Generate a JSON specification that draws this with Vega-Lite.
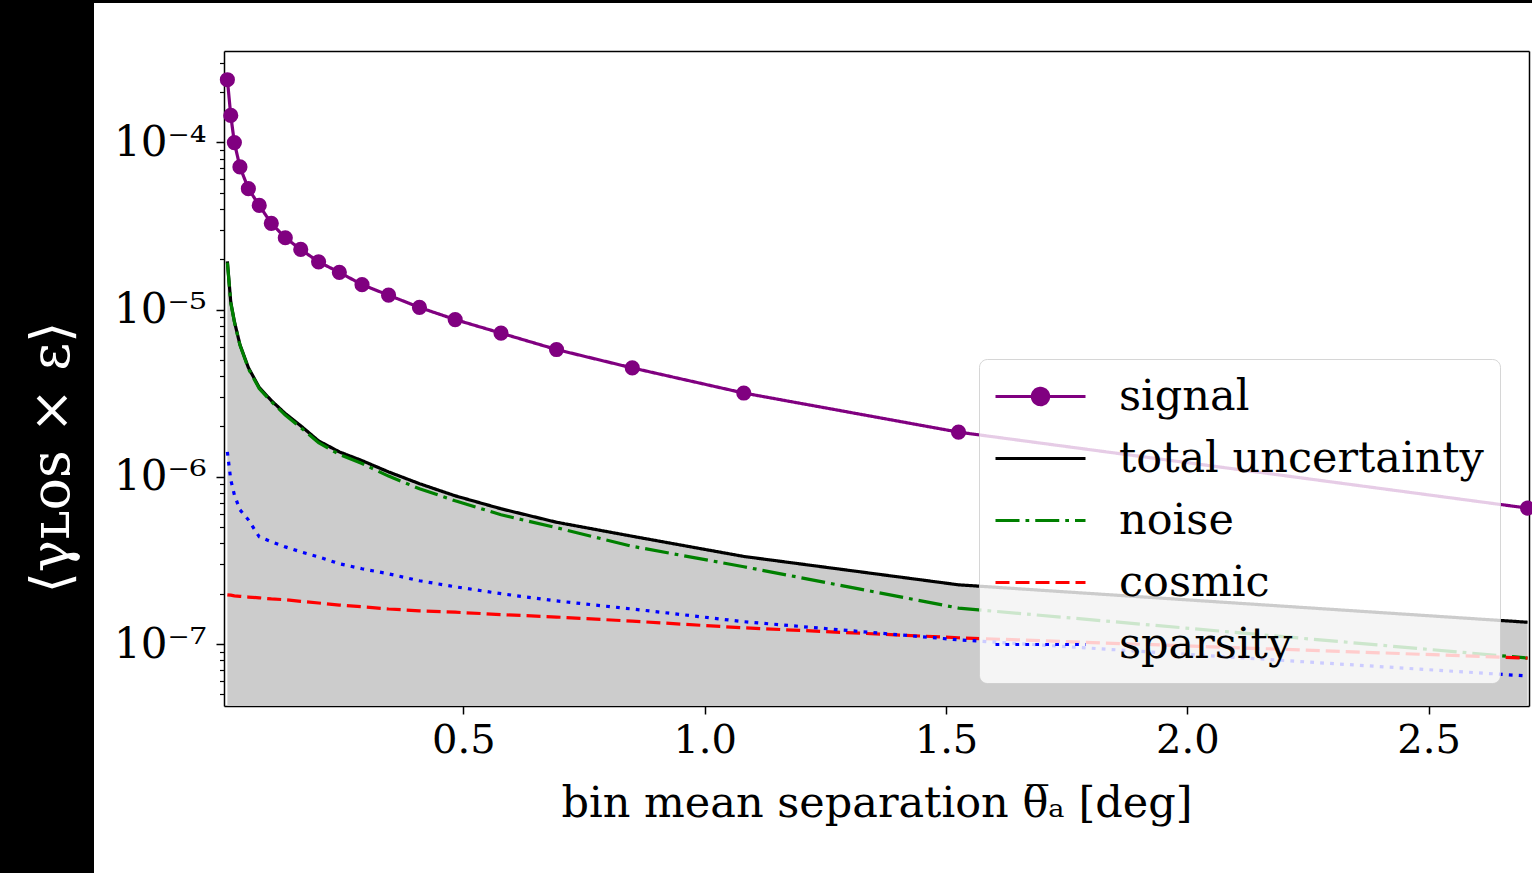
{
  "$schema": "https://vega.github.io/schema/vega-lite/v6.json",
  "background": "black",
  "autosize": "none",
  "padding": {"left": 94, "top": 3, "right": 0, "bottom": 0},
  "width": 1438,
  "height": 870,
  "view": {"fill": "white", "stroke": null},
  "data": {
    "values": [
      {"x": 0.011, "signal": 2.37e-4, "total uncertainty": 1.94e-5, "noise": 1.91e-5, "cosmic": 1.97e-7, "sparsity": 1.41e-6},
      {"x": 0.018, "signal": 1.45e-4, "total uncertainty": 1.11e-5, "noise": 1.10e-5, "cosmic": 1.96e-7, "sparsity": 9.6e-7},
      {"x": 0.0255, "signal": 9.97e-5, "total uncertainty": 8.5e-6, "noise": 8.43e-6, "cosmic": 1.94e-7, "sparsity": 7.8e-7},
      {"x": 0.037, "signal": 7.13e-5, "total uncertainty": 6.18e-6, "noise": 6.14e-6, "cosmic": 1.93e-7, "sparsity": 6.35e-7},
      {"x": 0.0545, "signal": 5.29e-5, "total uncertainty": 4.50e-6, "noise": 4.44e-6, "cosmic": 1.91e-7, "sparsity": 5.53e-7},
      {"x": 0.077, "signal": 4.20e-5, "total uncertainty": 3.42e-6, "noise": 3.37e-6, "cosmic": 1.89e-7, "sparsity": 4.38e-7},
      {"x": 0.102, "signal": 3.28e-5, "total uncertainty": 2.86e-6, "noise": 2.82e-6, "cosmic": 1.86e-7, "sparsity": 4.09e-7},
      {"x": 0.131, "signal": 2.69e-5, "total uncertainty": 2.39e-6, "noise": 2.34e-6, "cosmic": 1.84e-7, "sparsity": 3.81e-7},
      {"x": 0.163, "signal": 2.29e-5, "total uncertainty": 2.02e-6, "noise": 1.97e-6, "cosmic": 1.80e-7, "sparsity": 3.56e-7},
      {"x": 0.200, "signal": 1.93e-5, "total uncertainty": 1.64e-6, "noise": 1.60e-6, "cosmic": 1.76e-7, "sparsity": 3.32e-7},
      {"x": 0.243, "signal": 1.67e-5, "total uncertainty": 1.41e-6, "noise": 1.36e-6, "cosmic": 1.71e-7, "sparsity": 3.02e-7},
      {"x": 0.290, "signal": 1.41e-5, "total uncertainty": 1.25e-6, "noise": 1.20e-6, "cosmic": 1.67e-7, "sparsity": 2.82e-7},
      {"x": 0.345, "signal": 1.22e-5, "total uncertainty": 1.07e-6, "noise": 1.01e-6, "cosmic": 1.62e-7, "sparsity": 2.63e-7},
      {"x": 0.409, "signal": 1.03e-5, "total uncertainty": 9.1e-7, "noise": 8.49e-7, "cosmic": 1.58e-7, "sparsity": 2.39e-7},
      {"x": 0.483, "signal": 8.72e-6, "total uncertainty": 7.7e-7, "noise": 7.19e-7, "cosmic": 1.55e-7, "sparsity": 2.20e-7},
      {"x": 0.578, "signal": 7.23e-6, "total uncertainty": 6.44e-7, "noise": 5.93e-7, "cosmic": 1.50e-7, "sparsity": 2.00e-7},
      {"x": 0.693, "signal": 5.77e-6, "total uncertainty": 5.35e-7, "noise": 4.96e-7, "cosmic": 1.45e-7, "sparsity": 1.81e-7},
      {"x": 0.850, "signal": 4.48e-6, "total uncertainty": 4.41e-7, "noise": 3.84e-7, "cosmic": 1.37e-7, "sparsity": 1.62e-7},
      {"x": 1.081, "signal": 3.17e-6, "total uncertainty": 3.34e-7, "noise": 2.90e-7, "cosmic": 1.25e-7, "sparsity": 1.36e-7},
      {"x": 1.526, "signal": 1.85e-6, "total uncertainty": 2.26e-7, "noise": 1.64e-7, "cosmic": 1.09e-7, "sparsity": 1.06e-7},
      {"x": 2.705, "signal": 6.50e-7, "total uncertainty": 1.35e-7, "noise": 8.24e-8, "cosmic": 8.24e-8, "sparsity": 6.44e-8}
    ]
  },
  "resolve": {"axis": {"x": "independent", "y": "independent"}},
  "layer": [
    {
      "mark": {"type": "area", "color": "#cccccc", "clip": true},
      "encoding": {
        "x": {
          "field": "x", "type": "quantitative",
          "scale": {"domain": [0.004, 2.708], "range": [130, 1435], "nice": false, "zero": false},
          "axis": {
            "orient": "bottom", "offset": -167,
            "values": [0.5, 1, 1.5, 2, 2.5], "format": ".1f", "grid": false,
            "tickSize": 8, "tickWidth": 1.5, "tickColor": "black",
            "domainColor": "black", "domainWidth": 1.5,
            "labelFont": "DejaVu Serif", "labelFontSize": 40, "labelColor": "black", "labelPadding": 6,
            "labelFlush": false, "labelOverlap": false,
            "title": "bin mean separation θ̅ₐ [deg]", "titleFont": "DejaVu Serif", "titleFontSize": 43,
            "titleFontWeight": "normal", "titleColor": "black", "titlePadding": 22
          }
        },
        "y": {
          "field": "total uncertainty", "type": "quantitative",
          "scale": {"type": "log", "domain": [4.26e-8, 3.52e-4], "range": [703, 48], "nice": false},
          "axis": {
            "orient": "left", "offset": -130,
            "values": [1e-7, 1e-6, 1e-5, 1e-4], "grid": false,
            "labelExpr": "'10⁻' + ['⁰','¹','²','³','⁴','⁵','⁶','⁷','⁸','⁹'][-round(log(datum.value)/LN10)]",
            "tickSize": 8, "tickWidth": 1.5, "tickColor": "black",
            "domainColor": "black", "domainWidth": 1.5,
            "labelFont": "DejaVu Serif", "labelFontSize": 42, "labelColor": "black", "labelPadding": 10,
            "labelOverlap": false,
            "title": "⟨γʟᴏꜱ × ε⟩", "titleColor": "white", "titleFont": "DejaVu Serif", "titleFontSize": 54,
            "titleFontWeight": "normal", "titleAngle": 270, "titleAlign": "center", "titleBaseline": "middle",
            "titleX": -172, "titleY": 454
          }
        },
        "y2": {"datum": 4.26e-8}
      }
    },
    {
      "transform": [{"fold": ["total uncertainty", "noise", "cosmic", "sparsity", "signal"], "as": ["series", "value"]}],
      "mark": {"type": "line", "strokeWidth": 3.2, "clip": true},
      "encoding": {
        "x": {
          "field": "x", "type": "quantitative",
          "axis": {"orient": "top", "offset": -48, "labels": false, "ticks": false, "domain": true, "domainColor": "black", "domainWidth": 1.5, "grid": false, "title": null}
        },
        "y": {
          "field": "value", "type": "quantitative",
          "axis": {
            "orient": "left", "offset": -130,
            "values": [5e-8, 6e-8, 7e-8, 8e-8, 9e-8, 2e-7, 3e-7, 4e-7, 5e-7, 6e-7, 7e-7, 8e-7, 9e-7, 2e-6, 3e-6, 4e-6, 5e-6, 6e-6, 7e-6, 8e-6, 9e-6, 2e-5, 3e-5, 4e-5, 5e-5, 6e-5, 7e-5, 8e-5, 9e-5, 2e-4, 3e-4],
            "labels": false, "domain": false, "grid": false, "title": null,
            "tickSize": 4.5, "tickWidth": 1.2, "tickColor": "black"
          }
        },
        "color": {
          "field": "series", "type": "nominal",
          "scale": {"domain": ["signal", "total uncertainty", "noise", "cosmic", "sparsity"], "range": ["#800080", "#000000", "#008000", "#ff0000", "#0000ff"]},
          "legend": {
            "title": null, "orient": "none", "legendX": 885, "legendY": 356,
            "symbolType": "M-5,0H5", "symbolSize": 324, "symbolStrokeWidth": 3.2, "symbolOffset": 24,
            "labelOffset": 57, "labelFont": "DejaVu Serif", "labelFontSize": 43, "labelColor": "black", "labelLimit": 0,
            "rowPadding": 18, "padding": 16,
            "fillColor": "rgba(255,255,255,0.8)", "strokeColor": "rgba(204,204,204,0.8)", "cornerRadius": 8,
            "encode": {
              "symbols": {
                "update": {
                  "shape": {"signal": "datum.value === 'signal' ? 'M-5,0H5M-0.9,0A0.9,0.9 0 1,1 0.9,0A0.9,0.9 0 1,1 -0.9,0Z' : 'M-5,0H5'"},
                  "fill": {"signal": "datum.value === 'signal' ? '#800080' : 'transparent'"}
                }
              }
            }
          }
        },
        "strokeDash": {
          "field": "series", "type": "nominal",
          "scale": {"domain": ["signal", "total uncertainty", "noise", "cosmic", "sparsity"], "range": [[1, 0], [1, 0], [24, 6, 3.75, 6], [14, 6], [3.75, 6.2]]},
          "legend": {"title": null}
        }
      }
    },
    {
      "mark": {"type": "point", "filled": true, "color": "#800080", "size": 230, "opacity": 1, "clip": true},
      "encoding": {
        "x": {"field": "x", "type": "quantitative", "axis": null},
        "y": {
          "field": "signal", "type": "quantitative",
          "axis": {"orient": "right", "offset": -3, "labels": false, "ticks": false, "domain": true, "domainColor": "black", "domainWidth": 1.5, "grid": false, "title": null}
        }
      }
    }
  ]
}
